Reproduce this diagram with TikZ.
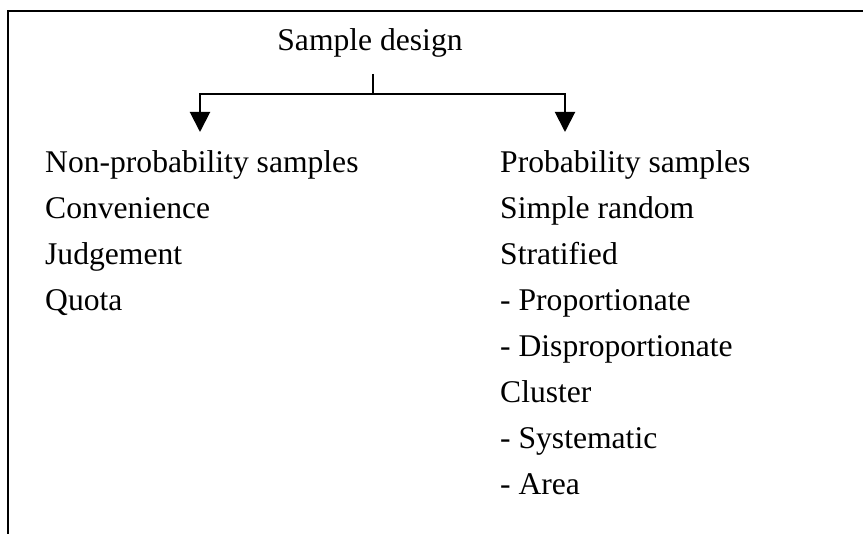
\documentclass[tikz,border=0pt]{standalone}
\usepackage{fontspec}
\setmainfont{Liberation Serif}
\usetikzlibrary{arrows.meta}
\begin{document}
\begin{tikzpicture}[x=1pt,y=-1pt,
  txt/.style={anchor=base west, inner sep=0pt, font=\fontsize{31.6}{37}\selectfont},
  head/.style={anchor=base, inner sep=0pt, font=\fontsize{31.6}{37}\selectfont},
  link/.style={line width=2pt},
  tip/.style={-{Triangle[width=20pt,length=20pt]}}]
\useasboundingbox (0,0) rectangle (863,534);
% open frame: top and left edges only
\draw[line width=2.2pt] (8,534) -- (8,11) -- (863,11);

% root
\node[head] (root) at (370,51) {Sample design};

% branch connectors
\coordinate (stem) at (373,74);
\coordinate (split) at (373,94);
\coordinate (lefttip) at (200,132);
\coordinate (righttip) at (565,132);
\draw[link] (stem) -- (split);
\draw[link,tip] (split) -| (lefttip);
\draw[link,tip] (split) -| (righttip);

% non-probability column
\node[txt] (np)  at (45,173) {Non-probability samples};
\node[txt] (np1) at (45,219) {Convenience};
\node[txt] (np2) at (45,265) {Judgement};
\node[txt] (np3) at (45,311) {Quota};

% probability column
\node[txt] (pr)  at (500,173) {Probability samples};
\node[txt] (pr1) at (500,219) {Simple random};
\node[txt] (pr2) at (500,265) {Stratified};
\node[txt] (pr3) at (500,311) {- Proportionate};
\node[txt] (pr4) at (500,357) {- Disproportionate};
\node[txt] (pr5) at (500,403) {Cluster};
\node[txt] (pr6) at (500,449) {- Systematic};
\node[txt] (pr7) at (500,495) {- Area};
\end{tikzpicture}
\end{document}
